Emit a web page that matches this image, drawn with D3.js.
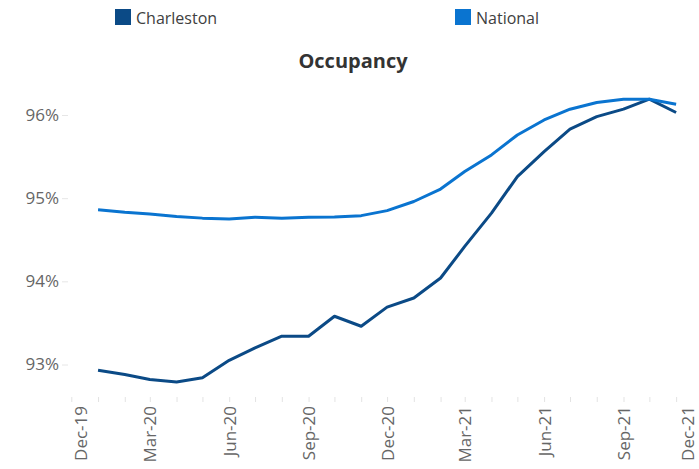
<!DOCTYPE html>
<html>
<head>
<meta charset="utf-8">
<script src="https://cdn.jsdelivr.net/npm/d3@7"></script>
<style>
  html, body { margin: 0; padding: 0; background: #fff; }
  svg { display: block; font-family: "Open Sans", "Noto Sans", sans-serif; }
</style>
</head>
<body>
<svg id="chart" width="699" height="469"></svg>
<script>
const months = ["2020-01","2020-02","2020-03","2020-04","2020-05","2020-06","2020-07","2020-08","2020-09","2020-10","2020-11","2020-12",
                "2021-01","2021-02","2021-03","2021-04","2021-05","2021-06","2021-07","2021-08","2021-09","2021-10","2021-11"];
const charleston = [92.93,92.88,92.82,92.79,92.84,93.05,93.20,93.34,93.34,93.58,93.46,93.69,
                    93.80,94.04,94.42,94.82,95.26,95.56,95.83,95.98,96.07,96.19,96.03];
const national = [94.86,94.83,94.81,94.78,94.76,94.75,94.77,94.76,94.77,94.775,94.79,94.85,
                  94.96,95.11,95.32,95.52,95.76,95.94,96.07,96.15,96.19,96.19,96.13];
const seriesNames = ["Charleston","National"];
const seriesColors = ["#0B4A86","#0A74D0"];
const yTicks = [93,94,95,96];
const xDomain = ["2019-12-01","2021-12-01"];
const title = "Occupancy";

const parse = d3.utcParse("%Y-%m");
const parseDay = d3.utcParse("%Y-%m-%d");
const dates = months.map(parse);

const svg = d3.select("#chart");
svg.append("rect").attr("width",699).attr("height",469).attr("fill","#fff");

const x = d3.scaleUtc().domain(xDomain.map(parseDay)).range([71.3, 702]);
const y = d3.scaleLinear().domain([93,96]).range([364.5,115]);

// Title
svg.append("text").attr("x",353).attr("y",68).attr("text-anchor","middle")
  .attr("font-size",20).attr("font-weight","bold").attr("fill","#333").text(title);

// Legend
const legendX = [115, 455];
seriesNames.forEach((n,i)=>{
  const g = svg.append("g").attr("transform",`translate(${legendX[i]},9)`);
  g.append("rect").attr("width",16).attr("height",16).attr("fill",seriesColors[i]);
  g.append("text").attr("x",21).attr("y",15).attr("font-size",16).attr("fill","#404040").text(n);
});

// Y axis
const yAxis = d3.axisLeft(y).tickValues(yTicks).tickSize(6).tickPadding(3).tickFormat(d=>d+"%");
const yg = svg.append("g").attr("transform","translate(68,0)").call(yAxis);
yg.select(".domain").remove();
yg.selectAll(".tick line").attr("stroke","#e6e6e6");
yg.selectAll(".tick text").attr("font-size",17).attr("fill","#666").attr("font-family","'Open Sans', sans-serif");

// X axis
const monthTicks = d3.utcMonth.range(x.domain()[0], d3.utcMonth.offset(x.domain()[1],1));
const xAxis = d3.axisBottom(x).tickValues(monthTicks).tickSize(5).tickPadding(4)
  .tickFormat(d => (d.getUTCMonth() % 3 === 2) ? d3.utcFormat("%b-%y")(d) : "");
const xg = svg.append("g").attr("transform","translate(0,397)").call(xAxis);
xg.select(".domain").remove();
xg.selectAll(".tick line").attr("stroke","#e3e3e3");
const nT = monthTicks.length;
xg.selectAll(".tick text")
  .attr("font-size",17).attr("fill","#666").attr("font-family","'Open Sans', sans-serif")
  .attr("text-anchor","end").attr("dy","0.35em")
  .attr("transform",(d,i)=>{
    const shift = i === 0 ? 9 : (i === nT-1 ? -14 : 0);
    return `translate(${shift},9) rotate(-90)`;
  }).attr("x",0).attr("y",0);

// Lines
const line = d3.line().x((d,i)=>x(dates[i])).y(d=>y(d));
[charleston, national].forEach((s,i)=>{
  svg.append("path").datum(s).attr("d",line).attr("fill","none")
    .attr("stroke",seriesColors[i]).attr("stroke-width",3).attr("stroke-linejoin","round");
});
</script>
</body>
</html>
